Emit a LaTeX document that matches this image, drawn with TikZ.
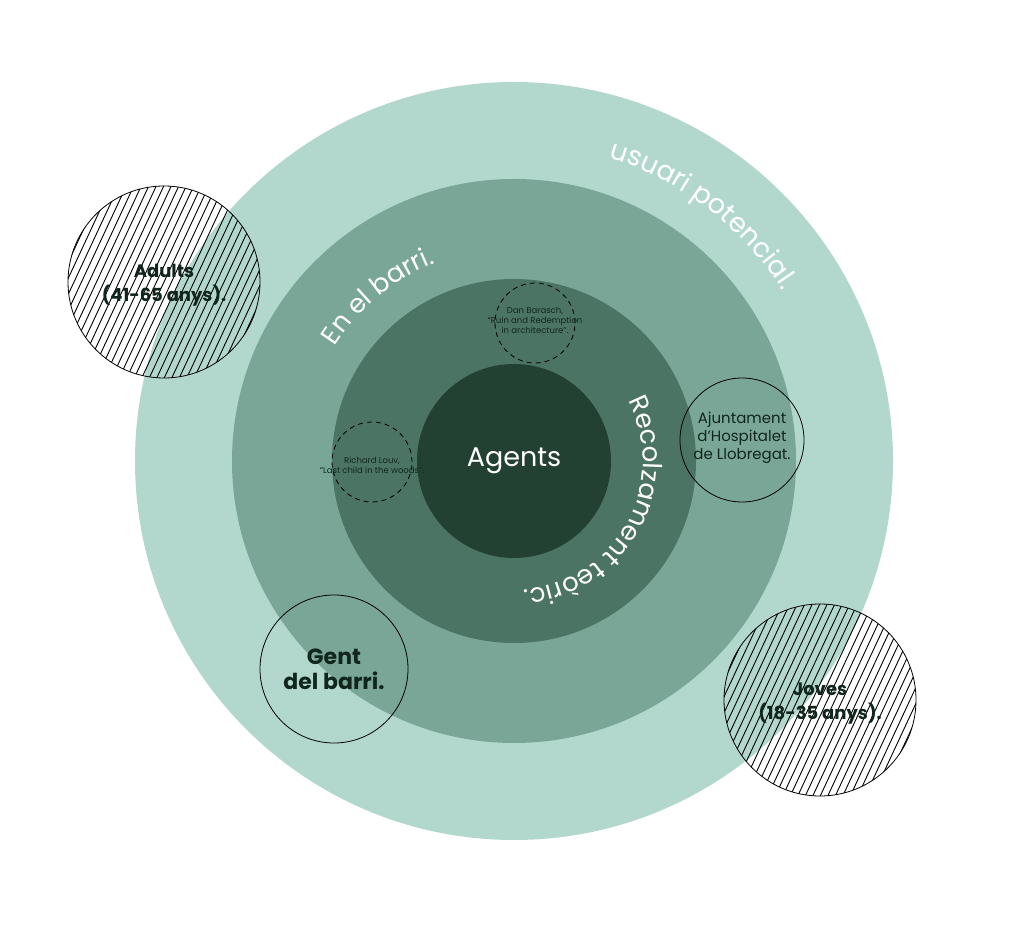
\documentclass[tikz,border=0pt]{standalone}
\usepackage{fontspec}
\setmainfont{Poppins}
\usetikzlibrary{decorations.text}
\definecolor{ringfar}{HTML}{B2D8CD}
\definecolor{ringmid}{HTML}{7AA698}
\definecolor{ringnear}{HTML}{4C7464}
\definecolor{core}{HTML}{234133}
\definecolor{inkdark}{HTML}{10261C}

\begin{document}
\begin{tikzpicture}[x=1pt,y=1pt,
  disc/.style={circle,inner sep=0pt,minimum size=#1},
  member/.style={circle,draw=black,line width=0.8pt,inner sep=0pt,minimum size=#1},
  membertext/.style={align=center,text=inkdark,inner sep=0pt,font=\bfseries\fontsize{18}{24}\selectfont},
  source/.style={circle,draw=black,dash pattern=on 5pt off 4pt,line width=0.8pt,inner sep=0pt,minimum size=80pt},
  sourcetext/.style={align=center,text=inkdark,inner sep=0pt,font=\fontsize{8.5}{10}\selectfont},
  hatch/.style={black,line width=0.9pt},
  ringlabel/.style={decorate,decoration={text along path,text align=center,text color=white}}]
  \fill[white] (0,0) rectangle (1024,924);
  \useasboundingbox (0,0) rectangle (1024,924);

  \node[disc=758pt,fill=ringfar] (potencial) at (514,463) {};
  \node[disc=564pt,fill=ringmid] (barri) at (514,463) {};
  \node[disc=364pt,fill=ringnear] (teoric) at (514,463) {};
  \node[disc=194pt,fill=core,text=white,font=\fontsize{27}{27}\selectfont] (agents) at (514,463) {Agents};

  \path[ringlabel,decoration={text={|\fontsize{27}{27}\selectfont|usuari potencial.}}]
    ([shift={(92.5:318)}]potencial.center) arc[start angle=92.5,end angle=12.5,radius=318];
  \path[ringlabel,decoration={text={|\fontsize{26}{26}\selectfont|En el barri.}}]
    ([shift={(169.5:213)}]barri.center) arc[start angle=169.5,end angle=89.5,radius=213];
  \path[ringlabel,decoration={text={|\fontsize{26}{26}\selectfont|Recolzament teòric.}}]
    ([shift={(61:129)}]teoric.center) arc[start angle=61,end angle=-119,radius=129];

  \node[source] (barasch) at (535,601) {};
  \node[sourcetext] (barasch-text) at (535,604) {Dan Barasch,\\“Ruin and Redemption\\in architecture”.};
  \node[source] (louv) at (372,462) {};
  \node[sourcetext] (louv-text) at (372,459) {Richard Louv,\\“Last child in the woods”.};

  \node[member=124pt] (ajuntament) at (742,484) {};
  \node[membertext,font=\fontsize{15}{18}\selectfont] (ajuntament-text) at (742,486) {Ajuntament\\d’Hospitalet\\de Llobregat.};

  \node[member=148pt] (gent) at (334,255) {};
  \node[membertext,font=\bfseries\fontsize{22}{25}\selectfont] (gent-text) at (334,255) {Gent\\del barri.};

  \node[member=192pt] (adults) at (164,642) {};
  \begin{scope}
    \clip (adults.center) circle (96);
    \foreach \k in {-30,...,30}
      \draw[hatch] ([xshift=\k*7.5pt]adults.center) ++(65:-110) -- ++(65:220);
  \end{scope}
  \node[membertext] (adults-text) at (164,639) {Adults\\(41-65 anys).};

  \node[member=192pt] (joves) at (820,224) {};
  \begin{scope}
    \clip (joves.center) circle (96);
    \foreach \k in {-30,...,30}
      \draw[hatch] ([xshift=\k*7.5pt]joves.center) ++(65:-110) -- ++(65:220);
  \end{scope}
  \node[membertext] (joves-text) at (820,220) {Joves\\(18-35 anys).};
\end{tikzpicture}
\end{document}
